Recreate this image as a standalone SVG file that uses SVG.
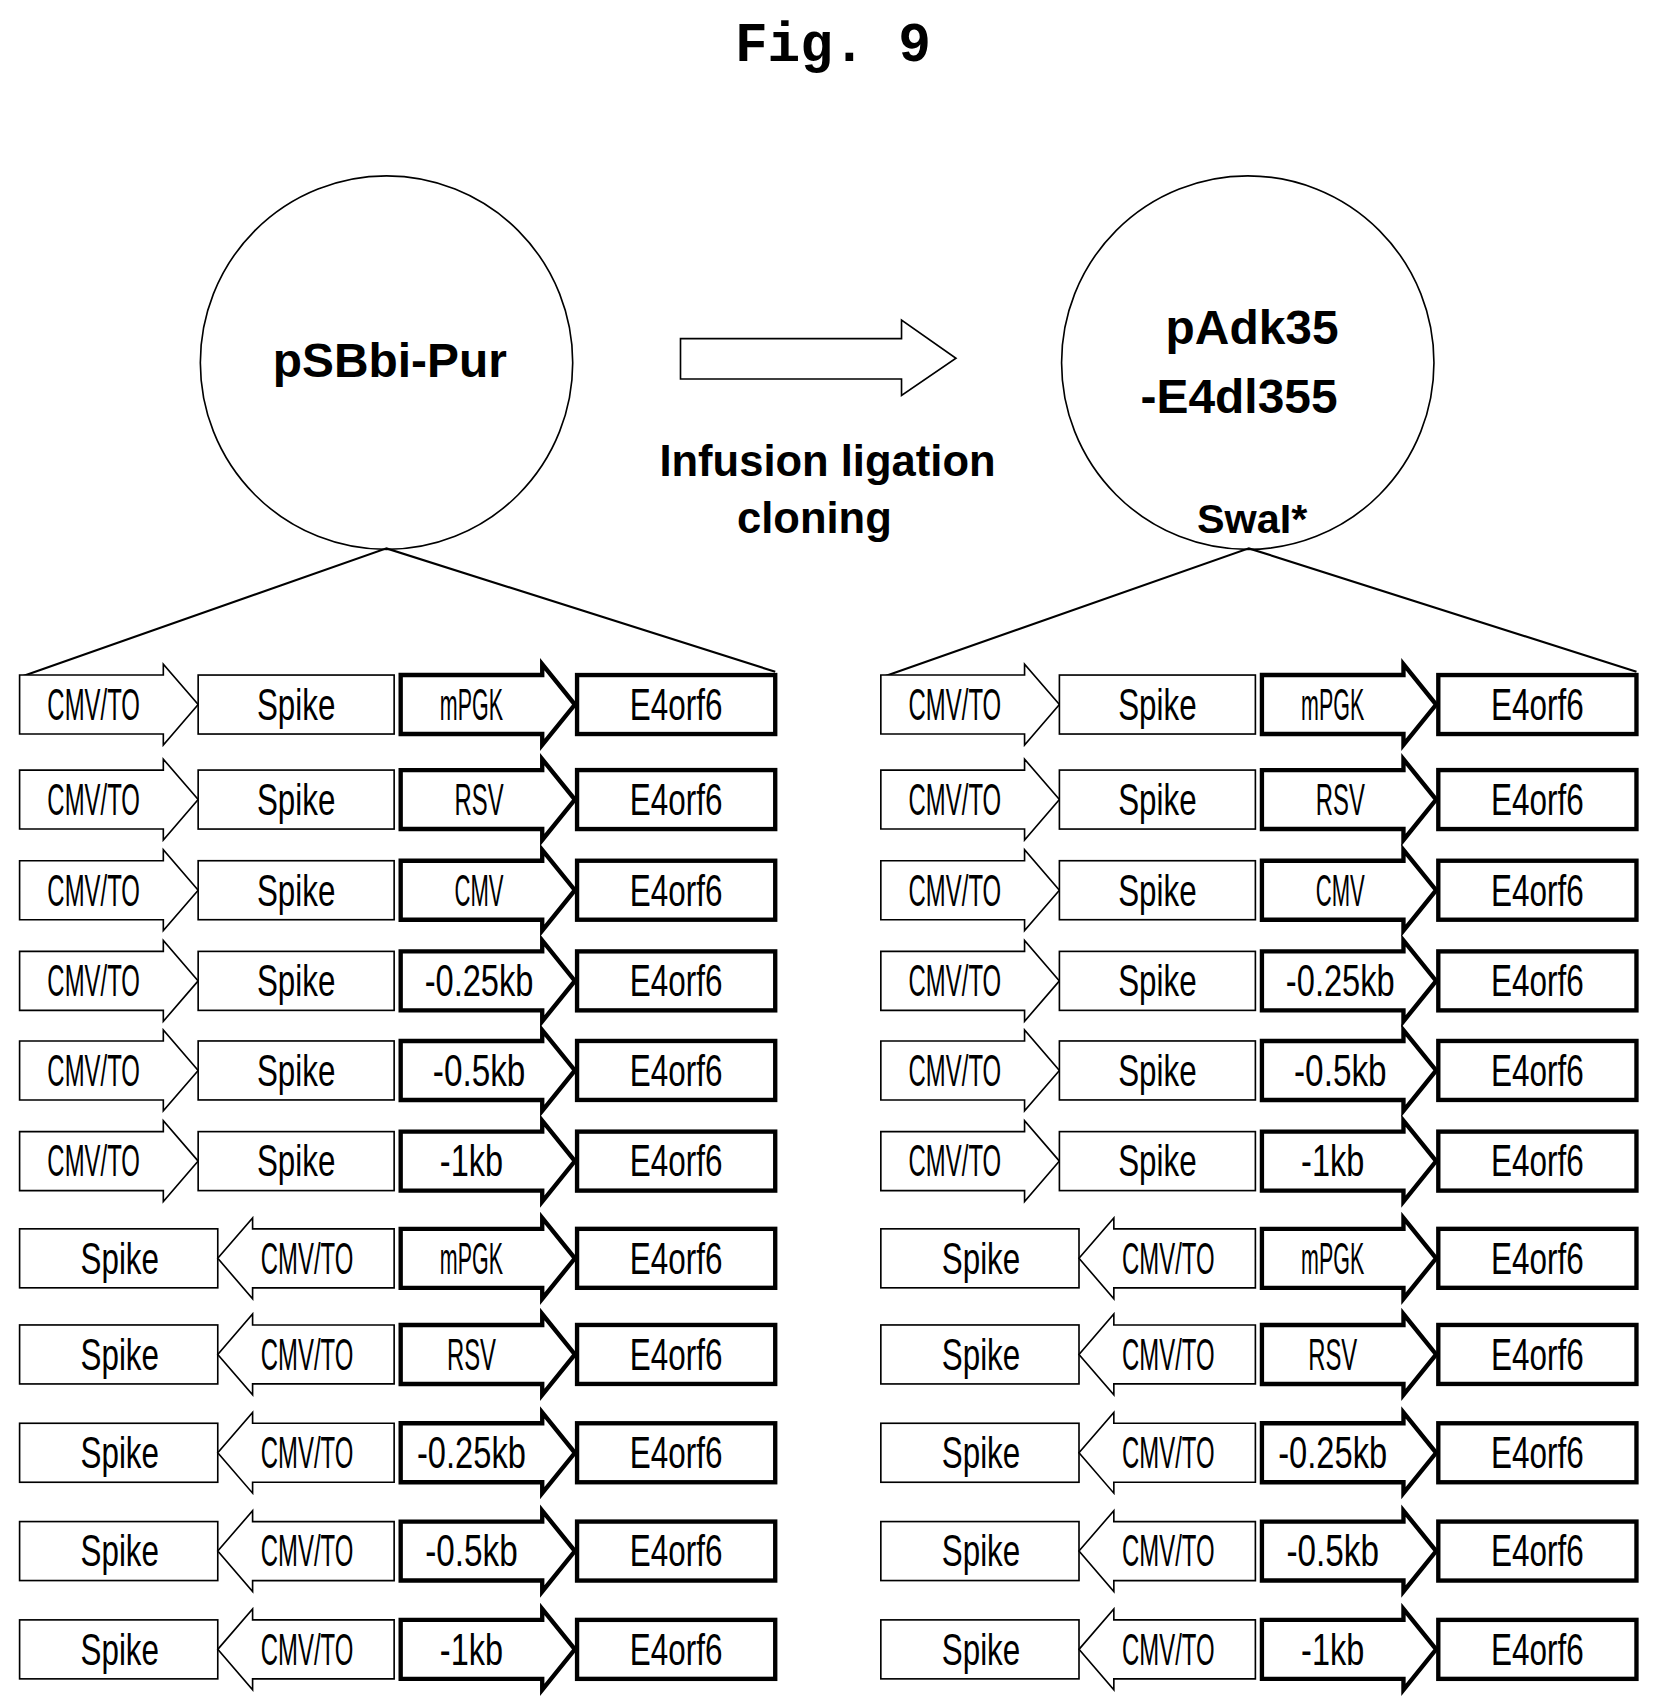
<svg xmlns="http://www.w3.org/2000/svg" xmlns:xlink="http://www.w3.org/1999/xlink" width="1655" height="1704" viewBox="0 0 1655 1704">
<style>
.th{fill:#fff;stroke:#000;stroke-width:1.5}
.tk{fill:#fff;stroke:#000;stroke-width:4;stroke-linejoin:miter}
.lb{font-family:"Liberation Sans",Arial,sans-serif;font-size:40px;text-anchor:middle}
.bd{font-family:"Liberation Sans",Arial,sans-serif;font-weight:bold;text-anchor:middle}
</style>
<defs>
<path id="cmvR" class="th" d="M18,-27H150V-37L182,0L150,37V27H18Z"/>
<rect id="spA" class="th" x="182" y="-27" width="180" height="54"/>
<path id="prom" class="tk" d="M368,-27H498V-37L528,0L498,37V27H368Z"/>
<rect id="e4" class="tk" x="530" y="-27" width="182" height="54"/>
<rect id="spB" class="th" x="18" y="-27" width="182" height="54"/>
<path id="cmvL" class="th" d="M362,-27H232V-37L200,0L232,37V27H362Z"/>
<g id="rowA"><use href="#cmvR"/><use href="#spA"/><use href="#prom"/><use href="#e4"/>
<text class="lb" x="86" y="14" textLength="85" lengthAdjust="spacingAndGlyphs">CMV/TO</text>
<text class="lb" x="272" y="14" textLength="72" lengthAdjust="spacingAndGlyphs">Spike</text>
<text class="lb" x="621" y="14" textLength="85" lengthAdjust="spacingAndGlyphs">E4orf6</text></g>
<g id="rowB"><use href="#spB"/><use href="#cmvL"/><use href="#prom"/><use href="#e4"/>
<text class="lb" x="110" y="14" textLength="72" lengthAdjust="spacingAndGlyphs">Spike</text>
<text class="lb" x="282" y="14" textLength="85" lengthAdjust="spacingAndGlyphs">CMV/TO</text>
<text class="lb" x="621" y="14" textLength="85" lengthAdjust="spacingAndGlyphs">E4orf6</text></g>
</defs>
<rect width="1655" height="1704" fill="#fff"/>
<g transform="scale(1.0888 1.0923)">
<text x="765" y="56" font-family="'Liberation Mono',monospace" font-weight="bold" font-size="50" text-anchor="middle">Fig. 9</text>
<g id="plasmid1"><circle cx="355" cy="332" r="171" fill="#fff" stroke="#000" stroke-width="1.5"/>
<text class="bd" x="358" y="345" font-size="44">pSBbi-Pur</text></g>
<g id="plasmid2"><circle cx="1146" cy="332" r="171" fill="#fff" stroke="#000" stroke-width="1.5"/>
<text class="bd" x="1150" y="315" font-size="44">pAdk35</text>
<text class="bd" x="1138" y="378" font-size="44">-E4dl355</text>
<text class="bd" x="1150" y="488" font-size="38">SwaI*</text></g>
<g id="process"><path class="th" d="M625,310H828V293L878,328L828,362V347H625Z"/>
<text class="bd" x="760" y="436" font-size="40">Infusion ligation</text>
<text class="bd" x="748" y="488" font-size="40">cloning</text></g>
<g id="connectors" fill="none" stroke="#000" stroke-width="2">
<path d="M18,620L355,502L712,615"/><path d="M810,620L1147,502L1503,615"/></g>
<g id="left">
<g id="L1" transform="translate(0,645)"><use href="#rowA"/><text class="lb" x="433" y="14" textLength="58" lengthAdjust="spacingAndGlyphs">mPGK</text></g>
<g id="L2" transform="translate(0,732)"><use href="#rowA"/><text class="lb" x="440" y="14" textLength="45" lengthAdjust="spacingAndGlyphs">RSV</text></g>
<g id="L3" transform="translate(0,815)"><use href="#rowA"/><text class="lb" x="440" y="14" textLength="45" lengthAdjust="spacingAndGlyphs">CMV</text></g>
<g id="L4" transform="translate(0,898)"><use href="#rowA"/><text class="lb" x="440" y="14" textLength="100" lengthAdjust="spacingAndGlyphs">-0.25kb</text></g>
<g id="L5" transform="translate(0,980)"><use href="#rowA"/><text class="lb" x="440" y="14" textLength="85" lengthAdjust="spacingAndGlyphs">-0.5kb</text></g>
<g id="L6" transform="translate(0,1063)"><use href="#rowA"/><text class="lb" x="433" y="14" textLength="58" lengthAdjust="spacingAndGlyphs">-1kb</text></g>
<g id="L7" transform="translate(0,1152)"><use href="#rowB"/><text class="lb" x="433" y="14" textLength="58" lengthAdjust="spacingAndGlyphs">mPGK</text></g>
<g id="L8" transform="translate(0,1240)"><use href="#rowB"/><text class="lb" x="433" y="14" textLength="45" lengthAdjust="spacingAndGlyphs">RSV</text></g>
<g id="L9" transform="translate(0,1330)"><use href="#rowB"/><text class="lb" x="433" y="14" textLength="100" lengthAdjust="spacingAndGlyphs">-0.25kb</text></g>
<g id="L10" transform="translate(0,1420)"><use href="#rowB"/><text class="lb" x="433" y="14" textLength="85" lengthAdjust="spacingAndGlyphs">-0.5kb</text></g>
<g id="L11" transform="translate(0,1510)"><use href="#rowB"/><text class="lb" x="433" y="14" textLength="58" lengthAdjust="spacingAndGlyphs">-1kb</text></g>
</g>
<g id="right" transform="translate(791,0)">
<g id="R1" transform="translate(0,645)"><use href="#rowA"/><text class="lb" x="433" y="14" textLength="58" lengthAdjust="spacingAndGlyphs">mPGK</text></g>
<g id="R2" transform="translate(0,732)"><use href="#rowA"/><text class="lb" x="440" y="14" textLength="45" lengthAdjust="spacingAndGlyphs">RSV</text></g>
<g id="R3" transform="translate(0,815)"><use href="#rowA"/><text class="lb" x="440" y="14" textLength="45" lengthAdjust="spacingAndGlyphs">CMV</text></g>
<g id="R4" transform="translate(0,898)"><use href="#rowA"/><text class="lb" x="440" y="14" textLength="100" lengthAdjust="spacingAndGlyphs">-0.25kb</text></g>
<g id="R5" transform="translate(0,980)"><use href="#rowA"/><text class="lb" x="440" y="14" textLength="85" lengthAdjust="spacingAndGlyphs">-0.5kb</text></g>
<g id="R6" transform="translate(0,1063)"><use href="#rowA"/><text class="lb" x="433" y="14" textLength="58" lengthAdjust="spacingAndGlyphs">-1kb</text></g>
<g id="R7" transform="translate(0,1152)"><use href="#rowB"/><text class="lb" x="433" y="14" textLength="58" lengthAdjust="spacingAndGlyphs">mPGK</text></g>
<g id="R8" transform="translate(0,1240)"><use href="#rowB"/><text class="lb" x="433" y="14" textLength="45" lengthAdjust="spacingAndGlyphs">RSV</text></g>
<g id="R9" transform="translate(0,1330)"><use href="#rowB"/><text class="lb" x="433" y="14" textLength="100" lengthAdjust="spacingAndGlyphs">-0.25kb</text></g>
<g id="R10" transform="translate(0,1420)"><use href="#rowB"/><text class="lb" x="433" y="14" textLength="85" lengthAdjust="spacingAndGlyphs">-0.5kb</text></g>
<g id="R11" transform="translate(0,1510)"><use href="#rowB"/><text class="lb" x="433" y="14" textLength="58" lengthAdjust="spacingAndGlyphs">-1kb</text></g>
</g>
</g>
</svg>
